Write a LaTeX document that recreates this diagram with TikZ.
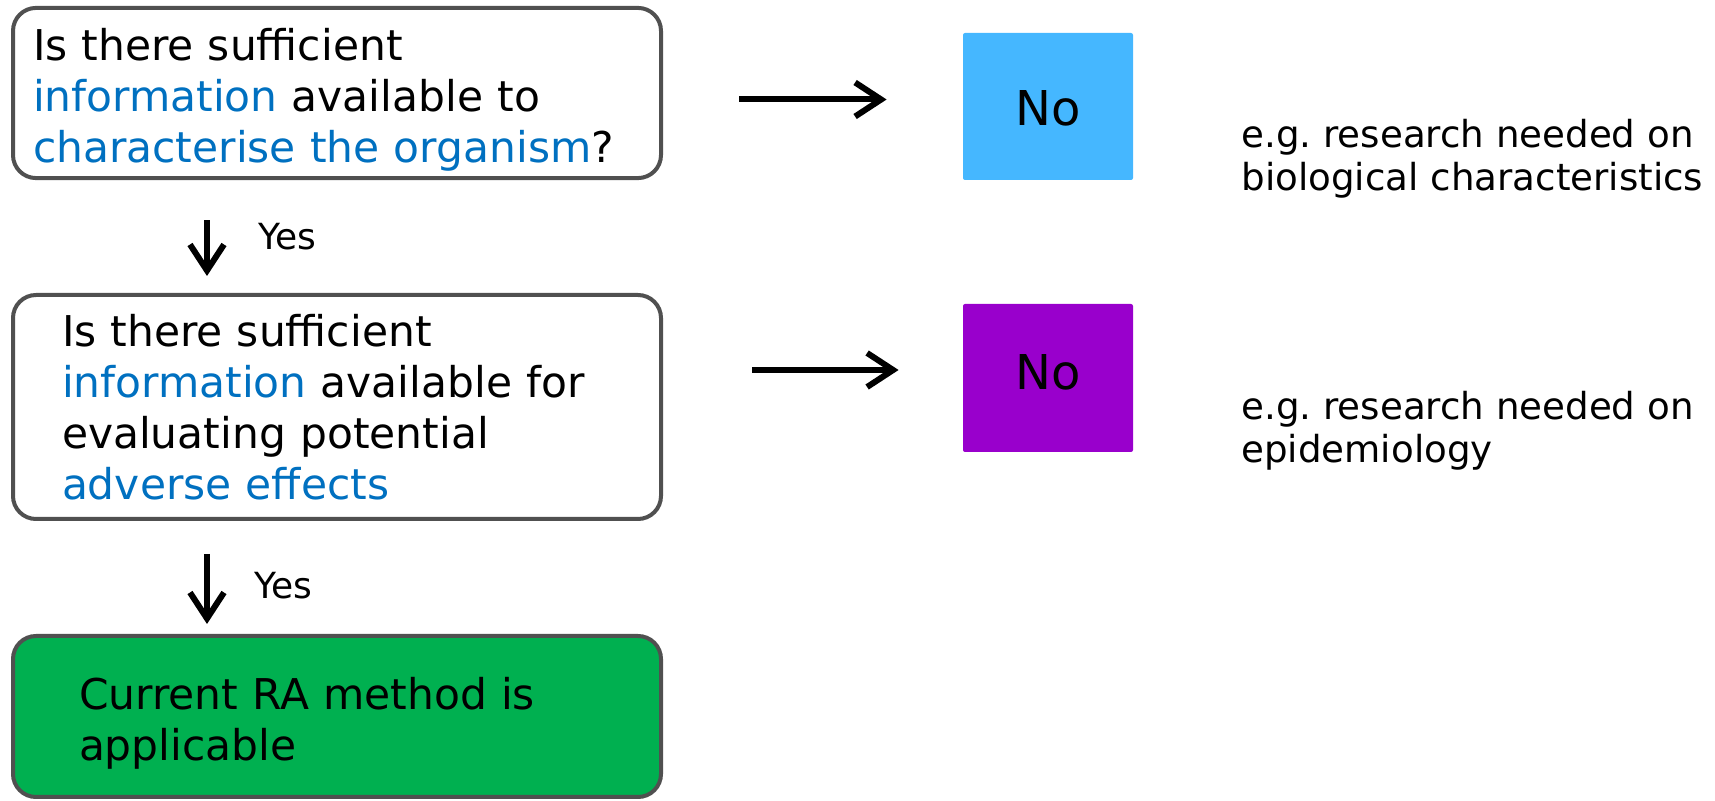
\documentclass[tikz,border=0pt]{standalone}
\usepackage{fontspec}
\setmainfont{DejaVu Sans}
\usetikzlibrary{arrows.meta}
\definecolor{infoblue}{HTML}{0070C0}
\definecolor{noblue}{HTML}{45B7FF}
\definecolor{nopurple}{HTML}{9900CC}
\definecolor{okgreen}{HTML}{00B050}
\definecolor{boxgray}{HTML}{505050}
\newcommand{\info}[1]{\textcolor{infoblue}{#1}}
\tikzset{
  question/.style={draw=boxgray, line width=2pt, rounded corners=11.5pt, align=left,
    font=\fontsize{21.2}{25.5}\selectfont},
  nobox/.style={minimum width=85pt, minimum height=73.5pt, rounded corners=1pt,
    font=\fontsize{24}{28}\selectfont},
  note/.style={anchor=west, align=left, inner sep=0pt, font=\fontsize{18.6}{21.5}\selectfont},
  yeslabel/.style={anchor=west, inner sep=0pt, font=\fontsize{18}{20}\selectfont},
  flow/.style={line width=3pt, -{Straight Barb[length=13pt,width=17pt,line width=3pt]}}
}
\begin{document}
\begin{tikzpicture}[x=0.5pt,y=-0.5pt]
\useasboundingbox (0,0) rectangle (1715,801);
% questions
\node[question, inner xsep=10pt, text width=304pt, minimum height=82pt] (q1) at (337,93)
  {\rule{0pt}{23pt}Is there sufficient\\ \info{information} available to\\ \info{characterise the organism}?};
\node[question, inner xsep=24.5pt, text width=275pt, minimum height=112pt] (q2) at (337,407)
  {Is there sufficient\\ \info{information} available for\\ evaluating potential\\ \info{adverse effects}};
\node[question, fill=okgreen, inner xsep=33pt, text width=258pt, minimum height=80.5pt] (q3) at (337,716.5)
  {\rule{0pt}{22.7pt}Current RA method is\\ applicable};
% answers
\node[nobox, fill=noblue, text height=19.5pt, text depth=0pt] (no1) at (1048,106.5) {No};
\node[nobox, fill=nopurple, minimum height=74pt, text height=17.5pt, text depth=5.5pt] (no2) at (1048,378) {No};
\node[note] (n1) at (1241,159) {e.g.\ research needed on\\ biological characteristics};
\node[note] (n2) at (1241,431) {e.g.\ research needed on\\ epidemiology};
\node[yeslabel] (y1) at (258,237) {Yes};
\node[yeslabel] (y2) at (254,586) {Yes};
\draw[flow] ([shift={(-130,40)}]q1.south) -- ([shift={(-130,-17)}]q2.north);
\draw[flow] ([shift={(-130,33)}]q2.south) -- ([shift={(-130,-10)}]q3.north);
\draw[flow] ([shift={(76,6.5)}]q1.east) -- ([shift={(-76,-7)}]no1.west);
\draw[flow] ([shift={(89,-37)}]q2.east) -- ([shift={(-64,-8)}]no2.west);
\end{tikzpicture}
\end{document}
